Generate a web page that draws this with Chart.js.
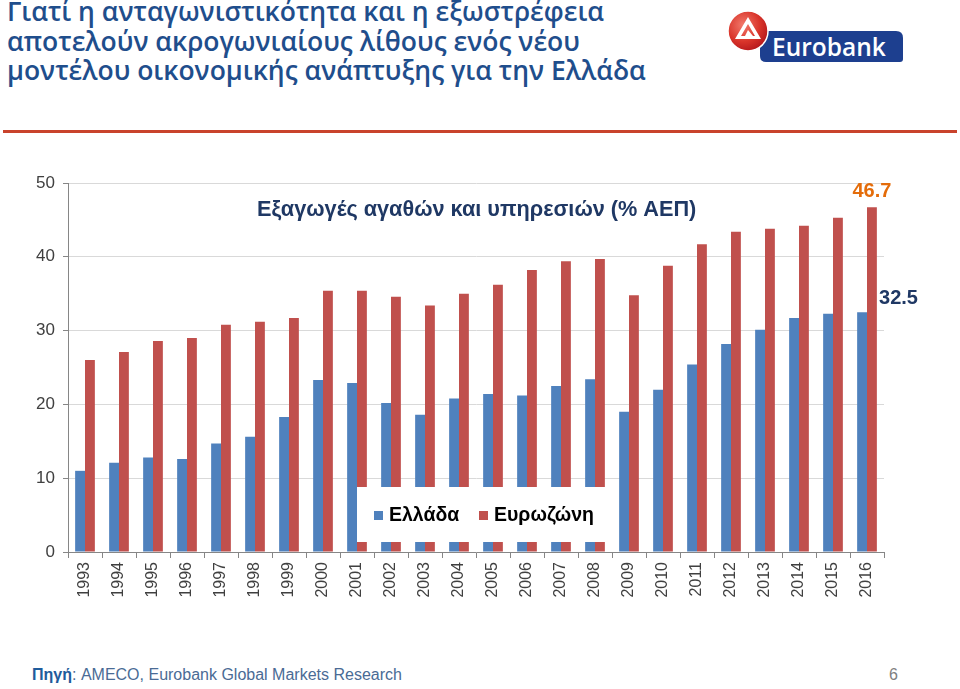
<!DOCTYPE html>
<html>
<head>
    <meta charset="utf-8">
    <title>Εξαγωγές αγαθών και υπηρεσιών</title>
    <script src="https://cdn.jsdelivr.net/npm/chart.js"></script>
    <style>
        body {
            margin: 0;
            width: 960px;
            height: 689px;
            background: #ffffff;
            font-family: "Liberation Sans", Arial, sans-serif;
            position: relative;
            overflow: hidden;
        }
        .heading {
            position: absolute;
            left: 7px;
            top: -3px;
            color: #1f4e8c;
            font-family: "Open Sans", sans-serif;
            font-weight: 600;
            font-size: 26.5px;
            line-height: 29.5px;
        }
        .rule {
            position: absolute;
            left: 3px;
            top: 130px;
            width: 954px;
            height: 3px;
            background: #c9432c;
        }
        .logo {
            position: absolute;
            left: 726px;
            top: 8px;
        }
        .chart-box {
            position: absolute;
            left: 0;
            top: 150px;
            width: 960px;
            height: 470px;
        }
        .source {
            position: absolute;
            left: 32px;
            top: 666px;
            font-size: 16px;
            color: #4a6b95;
        }
        .source b { color: #1f5c9c; }
        .page {
            position: absolute;
            left: 889px;
            top: 666px;
            font-size: 16px;
            color: #808080;
        }
    </style>
</head>
<body>
    <div class="heading">Γιατί η ανταγωνιστικότητα και η εξωστρέφεια<br>αποτελούν ακρογωνιαίους λίθους ενός νέου<br>μοντέλου οικονομικής ανάπτυξης για την Ελλάδα</div>

    <svg class="logo" width="180" height="58" viewBox="0 0 180 58">
        <defs>
            <radialGradient id="rg" cx="0.38" cy="0.35" r="0.7">
                <stop offset="0" stop-color="#f27a6c"/>
                <stop offset="0.6" stop-color="#d9342a"/>
                <stop offset="1" stop-color="#b3161b"/>
            </radialGradient>
        </defs>
        <path d="M34 23 H170 Q177 23 177 30 V51 Q177 54 174 54 H40 Q34 54 34 48 Z" fill="#1d3f8f"/>
        <circle cx="22" cy="23" r="20" fill="url(#rg)" stroke="#ffffff" stroke-width="1.5"/>
        <path d="M9 31 L22 9 L35 31 Z M15 28 L22 16 L29 28 Z" fill="#ffffff" fill-rule="evenodd"/>
        <path d="M22 22 L27 28 L19 28 Z" fill="#ffffff"/>
        <text x="46" y="48" fill="#ffffff" font-family="Open Sans, sans-serif" font-weight="600" font-size="24.5">Eurobank</text>
    </svg>

    <div class="rule"></div>

    <div class="chart-box"><canvas id="exportsChart" width="960" height="470"></canvas></div>

    <div class="source"><b>Πηγή</b>: AMECO, Eurobank Global Markets Research</div>
    <div class="page">6</div>

    <script>
        // Years on the x axis
        const years = ['1993', '1994', '1995', '1996', '1997', '1998', '1999', '2000',
            '2001', '2002', '2003', '2004', '2005', '2006', '2007', '2008',
            '2009', '2010', '2011', '2012', '2013', '2014', '2015', '2016'];

        // Exports of goods and services, % of GDP
        const greece = [11.0, 12.1, 12.8, 12.6, 14.7, 15.6, 18.3, 23.3,
            22.9, 20.2, 18.6, 20.8, 21.4, 21.2, 22.5, 23.4,
            19.0, 22.0, 25.4, 28.2, 30.1, 31.7, 32.3, 32.5];
        const eurozone = [26.0, 27.1, 28.6, 29.0, 30.8, 31.2, 31.7, 35.4,
            35.4, 34.6, 33.4, 35.0, 36.2, 38.2, 39.4, 39.7,
            34.8, 38.8, 41.7, 43.4, 43.8, 44.2, 45.3, 46.7];

        const yTicks = [0, 10, 20, 30, 40, 50];
        const chartTitle = 'Εξαγωγές αγαθών και υπηρεσιών (% ΑΕΠ)';

        // Title, end-value labels and the boxed legend that sits over the bars
        const overlay = {
            id: 'overlay',
            afterDatasetsDraw(chart) {
                const ctx = chart.ctx;
                ctx.save();

                ctx.font = 'bold 21.7px "Liberation Sans", Arial, sans-serif';
                ctx.fillStyle = '#1f3864';
                ctx.textBaseline = 'middle';
                ctx.textAlign = 'left';
                ctx.fillText(chartTitle, 257, 60);

                // last values
                const last = years.length - 1;
                const blueBar = chart.getDatasetMeta(0).data[last];
                const redBar = chart.getDatasetMeta(1).data[last];
                ctx.font = 'bold 20px "Liberation Sans", Arial, sans-serif';
                ctx.textAlign = 'center';
                ctx.textBaseline = 'bottom';
                ctx.fillStyle = '#e46c0a';
                ctx.fillText(eurozone[last].toFixed(1), redBar.x, redBar.y - 6);
                ctx.textAlign = 'left';
                ctx.textBaseline = 'middle';
                ctx.fillStyle = '#1f3864';
                ctx.fillText(greece[last].toFixed(1), blueBar.x + 17, blueBar.y - 14);

                // legend
                ctx.fillStyle = '#ffffff';
                ctx.fillRect(357, 337, 262, 55);
                ctx.font = 'bold 19.5px "Liberation Sans", Arial, sans-serif';
                ctx.textBaseline = 'middle';
                ctx.textAlign = 'left';
                let x = 374;
                chart.data.datasets.forEach(ds => {
                    ctx.fillStyle = ds.backgroundColor;
                    ctx.fillRect(x, 361, 9, 9);
                    ctx.fillStyle = '#000000';
                    ctx.fillText(ds.label, x + 15, 366);
                    x += 105;
                });

                ctx.restore();
            }
        };

        const ctx = document.getElementById('exportsChart').getContext('2d');
        const exportsChart = new Chart(ctx, {
            type: 'bar',
            data: {
                labels: years,
                datasets: [{
                    label: 'Ελλάδα',
                    data: greece,
                    backgroundColor: '#4f81bd',
                    categoryPercentage: 0.58,
                    barPercentage: 1.0
                }, {
                    label: 'Ευρωζώνη',
                    data: eurozone,
                    backgroundColor: '#c0504d',
                    categoryPercentage: 0.58,
                    barPercentage: 1.0
                }]
            },
            options: {
                responsive: false,
                animation: false,
                layout: { padding: { top: 33, right: 76, left: 0, bottom: 0 } },
                plugins: {
                    legend: { display: false },
                    tooltip: { enabled: false }
                },
                scales: {
                    x: {
                        grid: {
                            display: true,
                            drawOnChartArea: false,
                            drawTicks: true,
                            tickLength: 6,
                            color: '#868686',
                            offset: true
                        },
                        border: { color: '#868686' },
                        ticks: {
                            maxRotation: 90,
                            minRotation: 90,
                            padding: 4,
                            color: '#404040',
                            font: { family: '"Liberation Sans", Arial, sans-serif', size: 16 }
                        },
                        afterFit: s => { s.height = 68; }
                    },
                    y: {
                        min: 0,
                        max: 50,
                        afterBuildTicks: s => { s.ticks = yTicks.map(v => ({ value: v })); },
                        grid: { color: '#d9d9d9', tickLength: 5, tickColor: '#868686' },
                        border: { color: '#868686' },
                        ticks: {
                            padding: 8,
                            color: '#404040',
                            font: { family: '"Liberation Sans", Arial, sans-serif', size: 17 }
                        },
                        afterFit: s => { s.width = 68; }
                    }
                }
            },
            plugins: [overlay]
        });
    </script>
</body>
</html>
